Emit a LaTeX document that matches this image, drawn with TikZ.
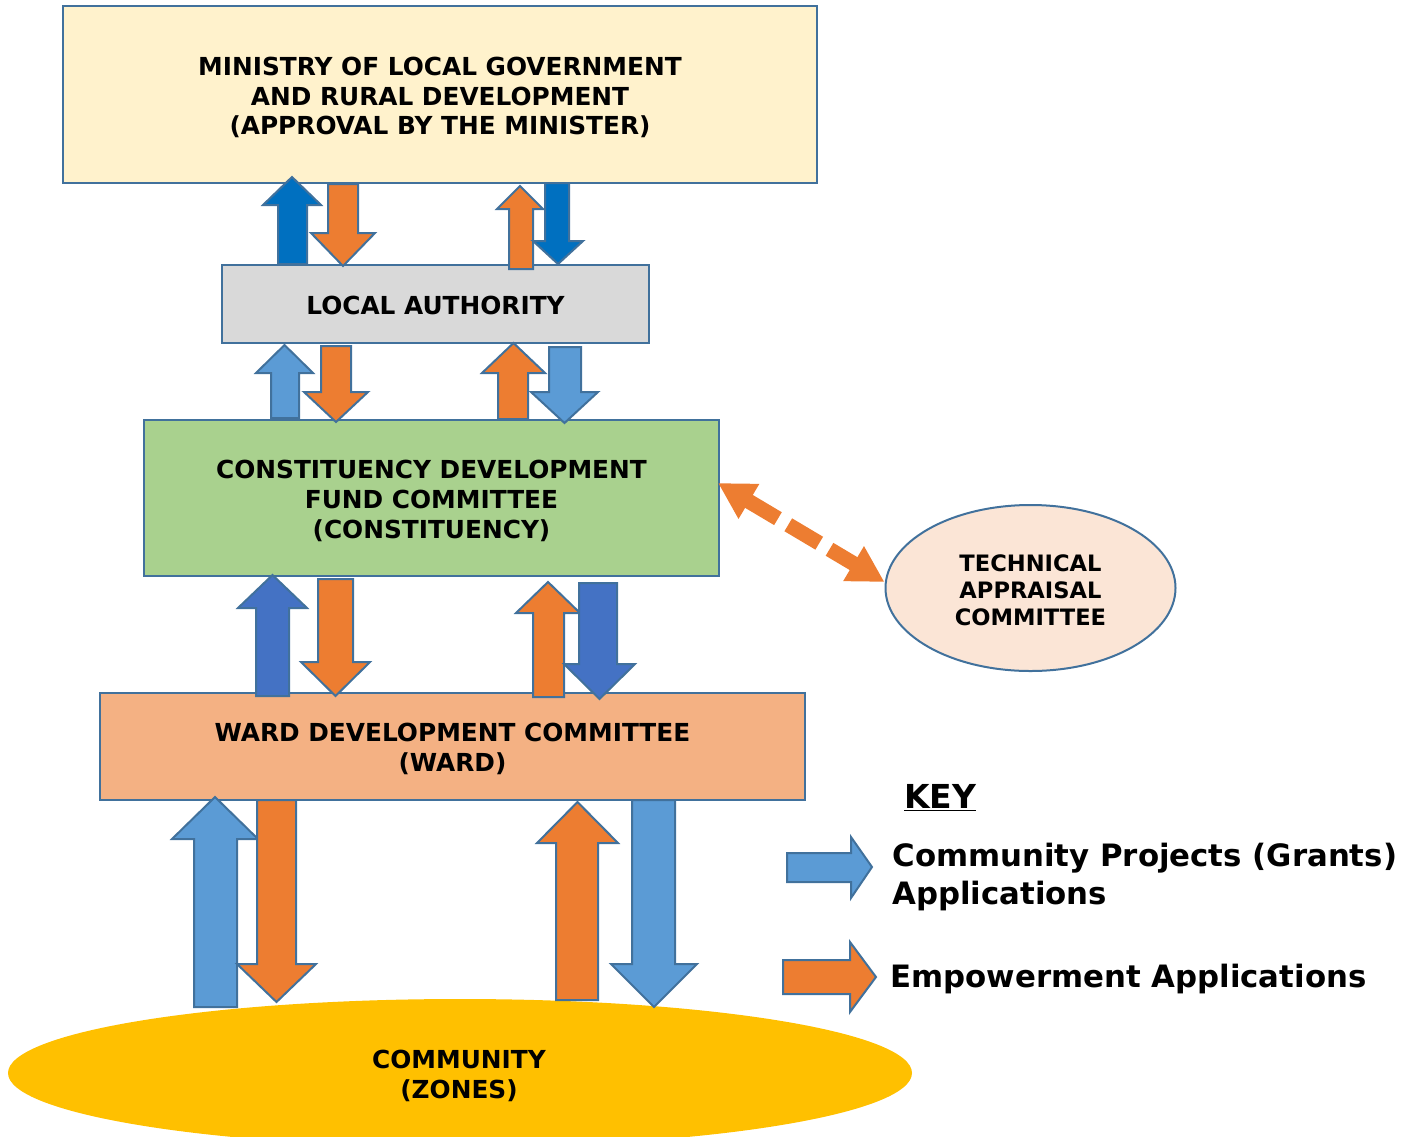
\documentclass[tikz,border=0pt]{standalone}
\usepackage{fontspec}
\setmainfont{DejaVu Sans}
\usetikzlibrary{arrows.meta,calc,shapes.geometric}
\definecolor{bord}{HTML}{41719C}
\definecolor{minfill}{HTML}{FFF2CC}
\definecolor{lafill}{HTML}{D9D9D9}
\definecolor{cdffill}{HTML}{A9D18E}
\definecolor{wardfill}{HTML}{F4B183}
\definecolor{techfill}{HTML}{FBE5D6}
\definecolor{comfill}{HTML}{FFC000}
\definecolor{oran}{HTML}{ED7D31}
\definecolor{blueA}{HTML}{0070C0}
\definecolor{blueB}{HTML}{5B9BD5}
\definecolor{blueC}{HTML}{4472C4}
\tikzset{
  box/.style={draw=bord, line width=1pt, inner sep=0pt},
  boxtext/.style={inner sep=0pt, align=center,
    font=\bfseries\fontsize{12.4}{14.8}\selectfont},
  blockarr/.style={draw=bord, line width=1pt, line join=miter},
  keytext/.style={inner sep=0pt, anchor=west, align=left,
    font=\bfseries\fontsize{15.4}{19}\selectfont},
}
% #1 colour, #2 #3 shaft x, #4 #5 head x, #6 tail y, #7 head-base y, #8 tip y
\newcommand\vblock[8]{%
  \filldraw[blockarr, fill=#1] (#2,#6) -- (#2,#7) -- (#4,#7) -- ({(#4+#5)/2},#8)
    -- (#5,#7) -- (#3,#7) -- (#3,#6) -- cycle;}
\begin{document}
\begin{tikzpicture}[x=0.5pt,y=-0.5pt]
\useasboundingbox (0,0) rectangle (1418,1136);

% boxes
\node[box, fill=minfill, minimum width=377pt, minimum height=88.5pt] (min) at (440,94.5) {};
\node[boxtext] (minT) at ($(min.center)+(0,3)$)
  {MINISTRY OF LOCAL GOVERNMENT\\AND RURAL DEVELOPMENT\\(APPROVAL BY THE MINISTER)};
\node[box, fill=lafill, minimum width=213.5pt, minimum height=39pt] (la) at (435.5,304) {};
\node[boxtext] (laT) at ($(la.center)+(0,1)$) {LOCAL AUTHORITY};
\node[box, fill=cdffill, minimum width=287.5pt, minimum height=78pt] (cdf) at (431.5,498) {};
\node[boxtext] (cdfT) at ($(cdf.center)+(0,3)$)
  {CONSTITUENCY DEVELOPMENT\\FUND COMMITTEE\\(CONSTITUENCY)};
\node[box, fill=wardfill, minimum width=352.5pt, minimum height=53.5pt] (ward) at (452.5,746.5) {};
\node[boxtext] (wardT) at ($(ward.center)+(0,2.5)$)
  {WARD DEVELOPMENT COMMITTEE\\(WARD)};
\node[ellipse, fill=techfill, draw=bord, line width=1pt, inner sep=0pt,
  minimum width=145pt, minimum height=83pt] (tech) at (1030.5,588) {};
\node[inner sep=0pt, align=center, font=\bfseries\fontsize{11.3}{13.5}\selectfont]
  (techT) at ($(tech.center)+(0,2)$) {TECHNICAL\\APPRAISAL\\COMMITTEE};
\node[ellipse, fill=comfill, inner sep=0pt,
  minimum width=452pt, minimum height=74pt] (com) at (460,1073) {};
\node[boxtext] (comT) at ($(com.center)+(-1,3)$) {COMMUNITY\\(ZONES)};

% row 1: ministry - local authority
\vblock{blueA}{278}{307}{263}{321}{264}{205}{177}
\vblock{oran}{328}{358}{311}{375}{184}{233}{266}
\vblock{oran}{509}{533}{497}{543}{269}{209}{186}
\vblock{blueA}{545}{569}{533}{583}{183}{241}{264}

% row 2: local authority - CDF
\vblock{blueB}{271}{299}{256}{313}{418}{373}{345}
\vblock{oran}{321}{351}{304}{368}{346}{392}{422}
\vblock{oran}{498}{528}{482}{545}{419}{373}{343}
\vblock{blueB}{549}{581}{531}{598}{347}{392}{423}

% row 3: CDF - ward
\vblock{blueC}{256}{289}{238}{307}{696}{608}{575}
\vblock{oran}{318}{353}{301}{370}{579}{662}{696}
\vblock{oran}{533}{564}{516}{580}{697}{613}{582}
\vblock{blueC}{579}{617}{564}{635}{583}{664}{699}

% row 4: ward - community
\vblock{blueB}{194}{237}{172}{258}{1007}{839}{797}
\vblock{oran}{257}{296}{237}{316}{800}{964}{1002}
\vblock{oran}{556}{598}{537}{618}{1000}{843}{802}
\vblock{blueB}{632}{675}{611}{697}{800}{964}{1007}

% dashed double arrow CDF <-> technical committee
\draw[oran, line width=7.5pt, dash pattern=on 18pt off 6pt,
  {Triangle[length=18pt,width=19pt]}-{Triangle[length=18pt,width=19pt]}]
  ($(cdf.east)+(-2,-15)$) -- ($(tech.west)+(0,-6)$);

% key
\node[inner sep=0pt, font=\bfseries\fontsize{16.5}{19}\selectfont] (key) at (940,798) {\underline{KEY}};
\filldraw[blockarr, fill=blueB] (787,853) -- (851,853) -- (851,837) -- (872,867)
  -- (851,898) -- (851,882) -- (787,882) -- cycle;
\filldraw[blockarr, fill=oran] (783,960) -- (850,960) -- (850,942) -- (876,977)
  -- (850,1012) -- (850,994) -- (783,994) -- cycle;
\node[keytext] (k1) at (892,877) {Community Projects (Grants)\\Applications};
\node[keytext] (k2) at (890,979) {Empowerment Applications};
\end{tikzpicture}
\end{document}
